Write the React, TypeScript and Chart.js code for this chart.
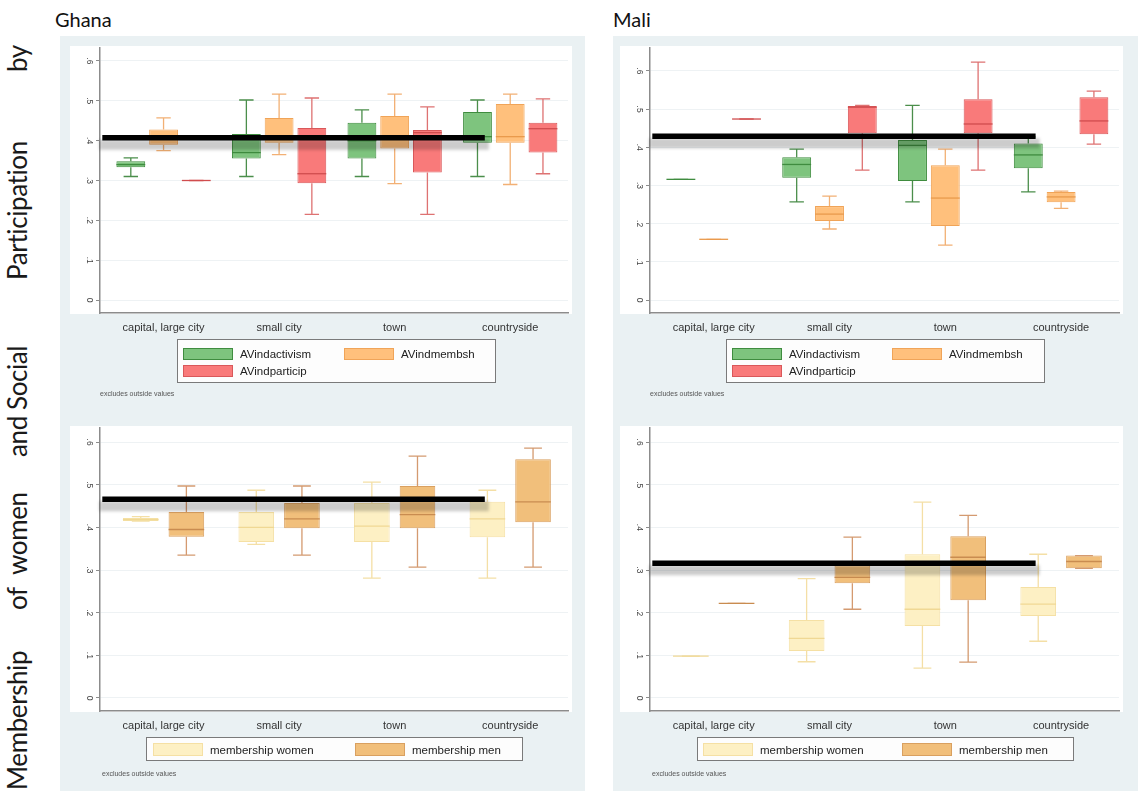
import React, { useEffect, useRef } from "react";
import { Chart, registerables } from "chart.js";

Chart.register(...registerables);

// ---------- data ----------
const categories = ["capital, large city", "small city", "town", "countryside"];
const categoryIndex = [0, 1, 2, 3];
const yTickValues = [0, 0.1, 0.2, 0.3, 0.4, 0.5, 0.6];

// each entry: [lower whisker, q1, median, q3, upper whisker] per category
const ghanaActivism = [
  [0.31, 0.333, 0.34, 0.348, 0.357],
  [0.31, 0.355, 0.37, 0.417, 0.502],
  [0.31, 0.355, 0.4, 0.445, 0.477],
  [0.31, 0.395, 0.41, 0.472, 0.502],
];
const ghanaMembsh = [
  [0.375, 0.39, 0.405, 0.428, 0.457],
  [0.365, 0.395, 0.41, 0.457, 0.517],
  [0.292, 0.38, 0.41, 0.462, 0.517],
  [0.29, 0.395, 0.41, 0.492, 0.517],
];
const ghanaParticip = [
  [0.3, 0.3, 0.3, 0.3, 0.3],
  [0.215, 0.293, 0.317, 0.432, 0.507],
  [0.215, 0.32, 0.42, 0.427, 0.485],
  [0.317, 0.37, 0.43, 0.445, 0.505],
];
const maliActivism = [
  [0.316, 0.316, 0.316, 0.316, 0.316],
  [0.257, 0.32, 0.355, 0.374, 0.395],
  [0.257, 0.312, 0.405, 0.419, 0.51],
  [0.283, 0.345, 0.38, 0.41, 0.427],
];
const maliMembsh = [
  [0.159, 0.159, 0.159, 0.159, 0.159],
  [0.186, 0.207, 0.225, 0.246, 0.272],
  [0.144, 0.194, 0.267, 0.353, 0.395],
  [0.24, 0.256, 0.27, 0.283, 0.285],
];
const maliParticip = [
  [0.474, 0.474, 0.474, 0.474, 0.474],
  [0.34, 0.437, 0.505, 0.508, 0.51],
  [0.34, 0.437, 0.461, 0.526, 0.623],
  [0.408, 0.434, 0.469, 0.531, 0.547],
];
const ghanaWomen = [
  [0.415, 0.415, 0.418, 0.422, 0.425],
  [0.36, 0.366, 0.4, 0.436, 0.487],
  [0.281, 0.366, 0.403, 0.457, 0.506],
  [0.281, 0.377, 0.42, 0.46, 0.487],
];
const ghanaMen = [
  [0.335, 0.378, 0.395, 0.436, 0.497],
  [0.335, 0.398, 0.42, 0.457, 0.497],
  [0.307, 0.398, 0.43, 0.497, 0.567],
  [0.307, 0.412, 0.46, 0.56, 0.586],
];
const maliWomen = [
  [0.098, 0.098, 0.098, 0.098, 0.098],
  [0.085, 0.11, 0.14, 0.183, 0.28],
  [0.07, 0.169, 0.208, 0.337, 0.459],
  [0.133, 0.192, 0.22, 0.26, 0.337],
];
const maliMen = [
  [0.222, 0.222, 0.222, 0.222, 0.222],
  [0.208, 0.269, 0.283, 0.311, 0.377],
  [0.084, 0.229, 0.33, 0.379, 0.428],
  [0.304, 0.304, 0.32, 0.334, 0.334],
];

// horizontal reference lines (value) and their extent along the category axis
const ghanaTopRef = 0.407;
const maliTopRef = 0.429;
const ghanaBottomRef = 0.466;
const maliBottomRef = 0.316;
const refLineSpan = [-0.53, 2.78];

const titleWords = ["Membership", "of", "women", "and", "Social", "Participation", "by"];

// ---------- styles ----------
const titleWordPos = [0, 180, 215, 333, 380, 510, 718];
const PANEL_BG = "#eaf1f3";
const AXIS = "#8c8c8c";
const topStyles = [
  { label: "AVindactivism", fill: "#7ec47e", border: "#3f8c3f", whisker: "#4b8e4b", median: "#3f8c3f" },
  { label: "AVindmembsh", fill: "#ffc07c", border: "#f0a458", whisker: "#f2b074", median: "#e99a4c" },
  { label: "AVindparticip", fill: "#f97a7a", border: "#d9585a", whisker: "#de7272", median: "#d04c4e" },
];
const bottomStyles = [
  { label: "membership women", fill: "#fdf0c4", border: "#f5e0a4", whisker: "#f4dfa6", median: "#f0d894" },
  { label: "membership men", fill: "#f1bf7b", border: "#d9a060", whisker: "#d49a70", median: "#c98c50" },
];

const fmtTick = (v: number) => (v === 0 ? "0" : v.toFixed(1).replace(/^0/, ""));

const boxPlugin = {
  id: "boxWhiskers",
  beforeDraw(chart: any) {
    const { ctx, chartArea: a } = chart;
    ctx.save();
    ctx.fillStyle = "#ffffff";
    ctx.fillRect(a.left - 30, a.top - 2, a.right - a.left + 34, a.bottom - a.top + 3);
    ctx.restore();
  },
  beforeDatasetDraw(chart: any, args: any) {
    const ds = chart.data.datasets[args.index];
    if (ds.isRef) {
      // soft grey drop-shadow band under the reference line
      const pts = args.meta.data;
      if (pts.length < 2) return;
      const x0 = pts[0].x;
      const x1 = pts[pts.length - 1].x;
      const y = pts[0].y;
      const ctx = chart.ctx;
      ctx.save();
      ctx.filter = "blur(1.5px)";
      ctx.fillStyle = "rgba(0,0,0,0.2)";
      ctx.fillRect(x0 - 3, y + 2, x1 - x0 + 7, 10);
      ctx.restore();
    }
  },
  afterDatasetDraw(chart: any, args: any) {
    const ds = chart.data.datasets[args.index];
    const ctx = chart.ctx;
    if (!ds.stats) return;
    const y = chart.scales.y;
    const py = (v: number) => y.getPixelForValue(v);
    args.meta.data.forEach((bar: any, j: number) => {
      const [mn, q1, md, q3, mx] = ds.stats[j];
      const { x, width } = bar.getProps(["x", "width"], true);
      const cap = width * 0.5;
      ctx.save();
      ctx.lineWidth = 1.3;
      ctx.strokeStyle = ds.whiskerColor;
      ctx.beginPath();
      ctx.moveTo(x, py(q3));
      ctx.lineTo(x, py(mx));
      ctx.moveTo(x - cap / 2, py(mx));
      ctx.lineTo(x + cap / 2, py(mx));
      ctx.moveTo(x, py(q1));
      ctx.lineTo(x, py(mn));
      ctx.moveTo(x - cap / 2, py(mn));
      ctx.lineTo(x + cap / 2, py(mn));
      ctx.stroke();
      ctx.strokeStyle = ds.medianColor;
      ctx.beginPath();
      ctx.moveTo(x - width / 2, py(md));
      ctx.lineTo(x + width / 2, py(md));
      ctx.stroke();
      ctx.restore();
    });
  },
};

type SeriesDef = { label: string; stats: number[][]; fill: string; border: string; whisker: string; median: string };

function BoxChart(props: {
  top: number;
  width: number;
  height: number;
  series: SeriesDef[];
  refValue: number;
  yMin: number;
  yMax: number;
  yAxisWidth: number;
  padRight: number;
  padTop: number;
  padBottom: number;
  catPct: number;
  barPct: number;
}) {
  const ref = useRef<HTMLCanvasElement>(null);
  useEffect(() => {
    const datasets: any[] = [
      {
        type: "line",
        isRef: true,
        data: refLineSpan.map((x) => ({ x, y: props.refValue })),
        borderColor: "#000000",
        borderWidth: 5.5,
        pointRadius: 0,
        borderCapStyle: "butt",
        order: 0,
      },
      ...props.series.map((s) => ({
        type: "bar",
        label: s.label,
        stats: s.stats,
        data: s.stats.map((v, i) => ({ x: categoryIndex[i], y: [v[1], v[3]] })),
        backgroundColor: s.fill,
        borderColor: s.border,
        borderWidth: 1,
        borderSkipped: false,
        whiskerColor: s.whisker,
        medianColor: s.median,
        categoryPercentage: props.catPct,
        barPercentage: props.barPct,
        order: 1,
      })),
    ];
    const chart = new Chart(ref.current as HTMLCanvasElement, {
      type: "bar",
      data: { datasets },
      options: {
        responsive: false,
        animation: false,
        events: [],
        layout: { padding: { left: 0, right: props.padRight, top: props.padTop, bottom: props.padBottom } },
        plugins: { legend: { display: false }, tooltip: { enabled: false } },
        scales: {
          x: {
            type: "linear",
            offset: false,
            min: -0.55,
            max: 3.5,
            grid: { display: false, offset: false },
            border: { display: true, color: AXIS, width: 1.5 },
            afterBuildTicks: (s: any) => {
              s.ticks = categoryIndex.map((v) => ({ value: v }));
            },
            afterFit: (s: any) => {
              s.height = 30;
            },
            ticks: {
              autoSkip: false,
              maxRotation: 0,
              minRotation: 0,
              padding: 0,
              color: "#333",
              font: { family: "Liberation Sans", size: 11 },
              callback: (v: any) => categories[v],
            },
          },
          y: {
            type: "linear",
            min: props.yMin,
            max: props.yMax,
            afterBuildTicks: (s: any) => {
              s.ticks = yTickValues.map((v) => ({ value: v }));
            },
            afterFit: (s: any) => {
              s.width = props.yAxisWidth;
            },
            grid: { color: "#eef2f4", tickColor: AXIS, tickLength: 4, drawTicks: true },
            border: { display: true, color: AXIS, width: 1.5 },
            ticks: {
              minRotation: -90,
              maxRotation: -90,
              crossAlign: "center",
              padding: 3,
              color: "#444",
              font: { family: "Liberation Sans", size: 8.5 },
              callback: (v: any) => fmtTick(Number(v)),
            },
          },
        },
      } as any,
      plugins: [boxPlugin as any],
    });
    return () => chart.destroy();
  }, []);
  return (
    <canvas
      ref={ref}
      width={props.width}
      height={props.height}
      style={{ position: "absolute", left: 0, top: props.top, width: props.width, height: props.height }}
    />
  );
}

function Legend(props: {
  left: number;
  top: number;
  width: number;
  height: number;
  items: { label: string; fill: string; border: string }[];
  colX: number[];
  rowY: number[];
  swH: number;
}) {
  return (
    <div
      style={{
        position: "absolute",
        left: props.left,
        top: props.top,
        width: props.width,
        height: props.height,
        border: "1px solid #7a7a7a",
        background: "#fdfdfd",
        boxSizing: "border-box",
      }}
    >
      {props.items.map((it, k) => {
        const col = k % 2;
        const row = Math.floor(k / 2);
        const x = props.colX[col];
        const y = props.rowY[row];
        return (
          <React.Fragment key={it.label}>
            <div
              style={{
                position: "absolute",
                left: x,
                top: y,
                width: 50,
                height: props.swH,
                background: it.fill,
                border: `1px solid ${it.border}`,
                boxSizing: "border-box",
              }}
            />
            <div
              style={{
                position: "absolute",
                left: x + 57,
                top: y + props.swH / 2 - 8,
                height: 16,
                lineHeight: "16px",
                fontFamily: "Liberation Sans",
                fontSize: 11.5,
                color: "#222",
                whiteSpace: "nowrap",
              }}
            >
              {it.label}
            </div>
          </React.Fragment>
        );
      })}
    </div>
  );
}

function Note(props: { left: number; top: number }) {
  return (
    <div
      style={{
        position: "absolute",
        left: props.left,
        top: props.top,
        fontFamily: "Liberation Sans",
        fontSize: 7,
        lineHeight: "9px",
        color: "#555",
        whiteSpace: "nowrap",
      }}
    >
      excludes outside values
    </div>
  );
}

function Panel(props: {
  left: number;
  yAxisWidth: number;
  padRight: number;
  top: { series: SeriesDef[]; refValue: number; yMin: number; yMax: number };
  bottom: { series: SeriesDef[]; refValue: number; yMin: number; yMax: number };
  topLegendLeft: number;
  topLegendCols: number[];
  bottomLegendLeft: number;
  bottomLegendCols: number[];
}) {
  return (
    <div style={{ position: "absolute", left: props.left, top: 36, width: 525, height: 755, background: PANEL_BG }}>
      <BoxChart
        top={0}
        width={525}
        height={364}
        series={props.top.series}
        refValue={props.top.refValue}
        yMin={props.top.yMin}
        yMax={props.top.yMax}
        yAxisWidth={props.yAxisWidth}
        padRight={props.padRight}
        padTop={12}
        padBottom={57}
        catPct={0.85}
        barPct={0.88}
      />
      <Legend
        left={props.topLegendLeft}
        top={303}
        width={319}
        height={44}
        items={props.top.series}
        colX={props.topLegendCols}
        rowY={[8, 25]}
        swH={12}
      />
      <Note left={props.yAxisWidth} top={353} />
      <BoxChart
        top={364}
        width={525}
        height={391}
        series={props.bottom.series}
        refValue={props.bottom.refValue}
        yMin={props.bottom.yMin}
        yMax={props.bottom.yMax}
        yAxisWidth={props.yAxisWidth}
        padRight={props.padRight}
        padTop={28}
        padBottom={50}
        catPct={0.79}
        barPct={0.78}
      />
      <Legend
        left={props.bottomLegendLeft}
        top={701}
        width={377}
        height={24}
        items={props.bottom.series}
        colX={props.bottomLegendCols}
        rowY={[5]}
        swH={13}
      />
      <Note left={props.yAxisWidth + 2} top={733} />
    </div>
  );
}

const withStats = (styles: any[], stats: number[][][]): SeriesDef[] =>
  styles.map((s, i) => ({ ...s, stats: stats[i] }));

export default function App() {
  return (
    <div
      style={{
        position: "fixed",
        left: 0,
        top: 0,
        width: 1138,
        height: 791,
        background: "#ffffff",
        overflow: "hidden",
        fontFamily: "Lato, 'Open Sans', sans-serif",
      }}
    >
      {/* vertical title */}
      <div
        style={{
          position: "absolute",
          left: 0,
          top: 790,
          width: 745,
          height: 34,
          transform: "rotate(-90deg)",
          transformOrigin: "top left",
        }}
      >
        {titleWords.map((w, i) => (
          <span
            key={w}
            style={{
              position: "absolute",
              left: titleWordPos[i],
              top: 0,
              fontFamily: "Lato",
              fontSize: 26,
              letterSpacing: "-0.4px",
              lineHeight: "34px",
              color: "#1a1a1a",
              whiteSpace: "nowrap",
            }}
          >
            {w}
          </span>
        ))}
      </div>

      <div style={{ position: "absolute", left: 55, top: 6, fontFamily: "Lato", fontSize: 20, lineHeight: "26px", color: "#111" }}>
        Ghana
      </div>
      <div style={{ position: "absolute", left: 613, top: 6, fontFamily: "Lato", fontSize: 20, lineHeight: "26px", color: "#111" }}>
        Mali
      </div>

      <Panel
        left={60}
        yAxisWidth={40}
        padRight={17}
        top={{
          series: withStats(topStyles, [ghanaActivism, ghanaMembsh, ghanaParticip]),
          refValue: ghanaTopRef,
          yMin: -0.0325,
          yMax: 0.6325,
        }}
        bottom={{
          series: withStats(bottomStyles, [ghanaWomen, ghanaMen]),
          refValue: ghanaBottomRef,
          yMin: -0.0305,
          yMax: 0.633,
        }}
        topLegendLeft={117}
        topLegendCols={[5, 166]}
        bottomLegendLeft={86}
        bottomLegendCols={[6, 208]}
      />
      <Panel
        left={613}
        yAxisWidth={37}
        padRight={19}
        top={{
          series: withStats(topStyles, [maliActivism, maliMembsh, maliParticip]),
          refValue: maliTopRef,
          yMin: -0.034,
          yMax: 0.66,
        }}
        bottom={{
          series: withStats(bottomStyles, [maliWomen, maliMen]),
          refValue: maliBottomRef,
          yMin: -0.0305,
          yMax: 0.633,
        }}
        topLegendLeft={113}
        topLegendCols={[5, 165]}
        bottomLegendLeft={84}
        bottomLegendCols={[5, 204]}
      />
    </div>
  );
}
